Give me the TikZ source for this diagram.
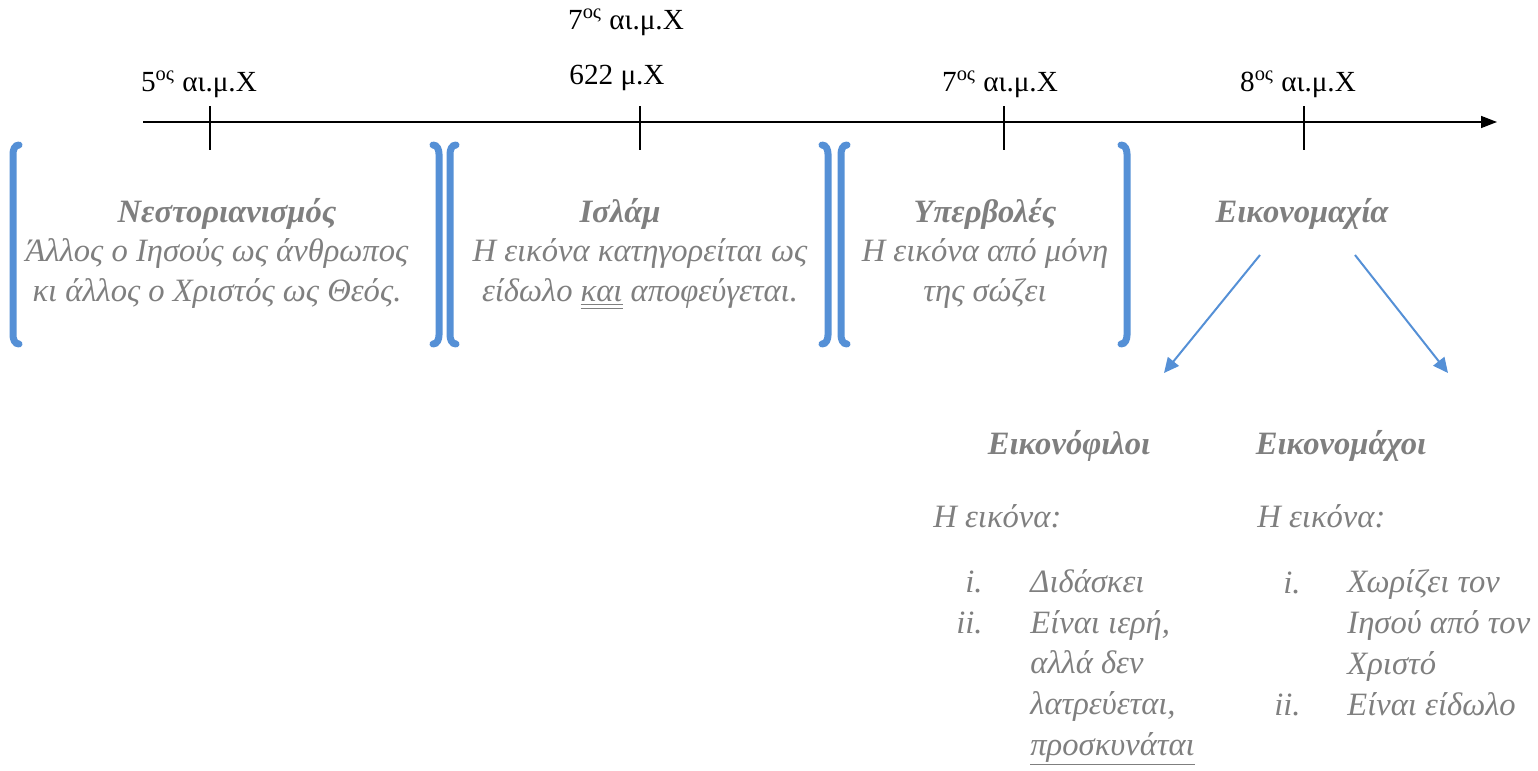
\documentclass[tikz,border=0pt]{standalone}
\usepackage{fontspec}
\setmainfont{Liberation Serif}
\usetikzlibrary{arrows.meta,positioning}
\definecolor{cblue}{HTML}{5590D6}
\definecolor{cgrey}{HTML}{7F7F7F}

\begin{document}
\begin{tikzpicture}[x=0.5pt,y=-0.5pt,
  date/.style={anchor=base,inner sep=0pt,font=\fontsize{14.6}{17}\selectfont},
  head/.style={anchor=base,inner sep=0pt,text=cgrey,font=\fontsize{16.3}{19}\selectfont\bfseries\itshape},
  blk/.style={anchor=base,inner sep=0pt,align=center,text=cgrey,font=\fontsize{16.3}{19.75}\selectfont\itshape},
  item/.style={anchor=base west,inner sep=0pt,align=left,text=cgrey,font=\fontsize{16.3}{20.3}\selectfont\itshape},
  num/.style={anchor=base east,inner sep=0pt,text=cgrey,font=\fontsize{16.3}{19}\selectfont\itshape},
  brk/.style={draw=cblue,line width=3.5pt,line cap=round},
  tick/.style={line width=0.75pt},
  arr/.style={draw=cblue,line width=1pt,-{Triangle[length=7.5pt,width=7pt]}}]
  \useasboundingbox (0,0) rectangle (1538,771);
  % timeline
  \coordinate (t0) at (143,122);
  \coordinate (t1) at (1497,122);
  \draw[tick,-{Triangle[length=8pt,width=6pt]}] (t0) -- (t1);
  \foreach \x in {210,640,1004,1304}
    \draw[tick] (\x,106) -- (\x,150);
  \node[date] (d5) at (199,91) {5\textsuperscript{ος} αι.μ.Χ};
  \node[date] (d7a) at (626,29) {7\textsuperscript{ος} αι.μ.Χ};
  \node[date] (d622) at (617,84) {622 μ.Χ};
  \node[date] (d7b) at (1000,91) {7\textsuperscript{ος} αι.μ.Χ};
  \node[date] (d8) at (1298,91) {8\textsuperscript{ος} αι.μ.Χ};
  % brackets
  \draw[brk] (19,145) to[out=180,in=90] (13,154) -- (13,335) to[out=-90,in=180] (19,344);
  \draw[brk] (433,145) to[out=0,in=90] (439,154) -- (439,335) to[out=-90,in=0] (433,344);
  \draw[brk] (456,145) to[out=180,in=90] (450,154) -- (450,335) to[out=-90,in=180] (456,344);
  \draw[brk] (822,145) to[out=0,in=90] (828,154) -- (828,335) to[out=-90,in=0] (822,344);
  \draw[brk] (847,145) to[out=180,in=90] (841,154) -- (841,335) to[out=-90,in=180] (847,344);
  \draw[brk] (1121,145) to[out=0,in=90] (1127,154) -- (1127,335) to[out=-90,in=0] (1121,344);
  % periods (base = last line)
  \node[head] (nest) at (227,222) {Νεστοριανισμός};
  \node[blk] (nestt) at (217,301) {Άλλος ο Ιησούς ως άνθρωπος\\κι άλλος ο Χριστός ως Θεός.};
  \node[head] (isl) at (620,222) {Ισλάμ};
  \node[blk] (islt) at (640,301) {Η εικόνα κατηγορείται ως\\είδωλο \underline{\underline{και}} αποφεύγεται.};
  \node[head] (yper) at (985,222) {Υπερβολές};
  \node[blk] (ypert) at (985,301) {Η εικόνα από μόνη\\της σώζει};
  \node[head] (emach) at (1302,222) {Εικονομαχία};
  % two sides
  \coordinate (s1) at (1260,255);
  \coordinate (e1) at (1164,373);
  \coordinate (s2) at (1355,255);
  \coordinate (e2) at (1448,373);
  \draw[arr] (s1) -- (e1);
  \draw[arr] (s2) -- (e2);
  \node[head] (fil) at (1069,454) {Εικονόφιλοι};
  \node[head] (mach) at (1341,454) {Εικονομάχοι};
  \node[item] (filh) at (933,527) {Η εικόνα:};
  \node[item] (machh) at (1257,527) {Η εικόνα:};
  \node[num] (f1) at (983,592) {i.};
  \node[num] (f2) at (983,633) {ii.};
  \node[item] (f1t) at (1030,592) {Διδάσκει};
  \node[item] (f2t) at (1030,755) {Είναι ιερή,\\αλλά δεν\\λατρεύεται,\\\underline{προσκυνάται}};
  \node[num] (m1) at (1301,593) {i.};
  \node[num] (m2) at (1301,715) {ii.};
  \node[item] (m1t) at (1347,674) {Χωρίζει τον\\Ιησού από τον\\Χριστό};
  \node[item] (m2t) at (1347,715) {Είναι είδωλο};
\end{tikzpicture}
\end{document}
